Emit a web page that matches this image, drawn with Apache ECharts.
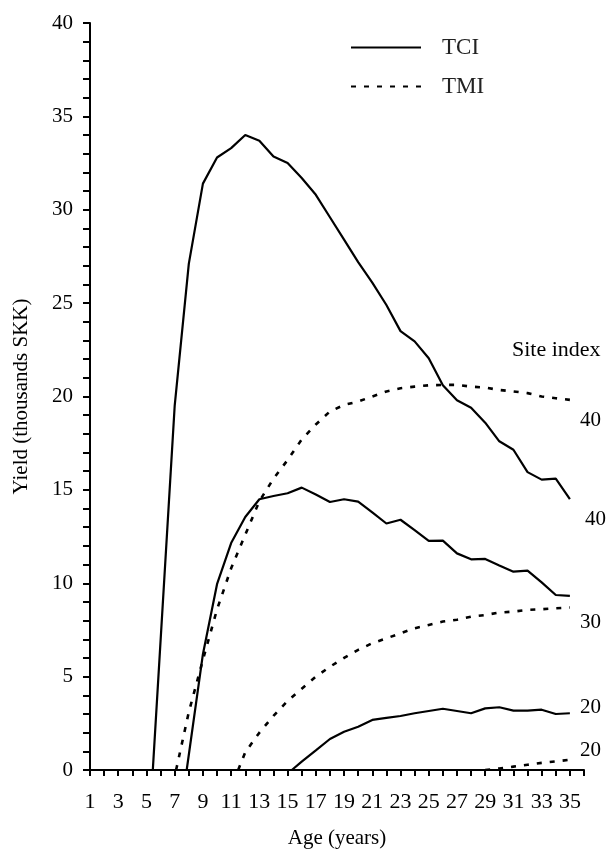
<!DOCTYPE html>
<html>
<head>
<meta charset="utf-8">
<script src="https://cdn.jsdelivr.net/npm/echarts@6/dist/echarts.min.js"></script>
<style>html,body{margin:0;padding:0;background:#fff}#c{width:609px;height:855px}</style>
</head>
<body>
<div id="c"></div>
<script>
// [age, yield] pairs
var TCI40 = [[5.45,0],[7,19.5],[8,27.1],[9,31.4],[10,32.8],[11,33.3],[12,34.0],[13,33.7],[14,32.85],[15,32.5],[16,31.7],[17,30.8],[18,29.6],[19,28.4],[20,27.2],[21,26.1],[22,24.9],[23,23.5],[24,22.95],[25,22.05],[26,20.6],[27,19.8],[28,19.4],[29,18.6],[30,17.6],[31,17.15],[32,15.95],[33,15.55],[34,15.6],[35,14.5]];
var TCI30 = [[7.85,0],[9,6.2],[10,9.95],[11,12.15],[12,13.55],[13,14.5],[14,14.67],[15,14.82],[16,15.12],[17,14.75],[18,14.35],[19,14.5],[20,14.37],[21,13.8],[22,13.2],[23,13.4],[24,12.85],[25,12.27],[26,12.28],[27,11.6],[28,11.28],[29,11.3],[30,10.95],[31,10.62],[32,10.68],[33,10.05],[34,9.37],[35,9.32]];
var TCI20 = [[15.3,0],[16,0.45],[17,1.05],[18,1.66],[19,2.05],[20,2.32],[21,2.68],[22,2.79],[23,2.89],[24,3.04],[25,3.16],[26,3.28],[27,3.16],[28,3.04],[29,3.3],[30,3.36],[31,3.18],[32,3.18],[33,3.23],[34,3.0],[35,3.04]];
var TMI40 = [[7.1,0],[8,3.1],[9,5.9],[10,8.6],[11,10.8],[12,12.6],[13,14.4],[14,15.6],[15,16.6],[16,17.7],[17,18.5],[18,19.2],[19,19.55],[20,19.73],[21,20.0],[22,20.27],[23,20.44],[24,20.53],[25,20.6],[26,20.62],[27,20.62],[28,20.53],[29,20.48],[30,20.35],[31,20.27],[32,20.18],[33,20.0],[34,19.91],[35,19.82]];
var TMI30 = [[11.5,0],[12,0.95],[13,2.0],[14,2.9],[15,3.7],[16,4.35],[17,5.0],[18,5.53],[19,6.0],[20,6.43],[21,6.79],[22,7.05],[23,7.32],[24,7.59],[25,7.77],[26,7.95],[27,8.05],[28,8.21],[29,8.3],[30,8.43],[31,8.48],[32,8.57],[33,8.61],[34,8.66],[35,8.7]];
var TMI20 = [[29,0],[30,0.08],[31,0.18],[32,0.28],[33,0.38],[34,0.46],[35,0.55]];
var legendNames = ['TCI', 'TMI'];
var xTitle = 'Age (years)';
var yTitle = 'Yield (thousands SKK)';
var siteTitle = 'Site index';

var FONT = '"Liberation Serif", "Times New Roman", serif';
var FS = 21;

function mk(name, data, dashed, label, dist, dy) {
  var s = {
    name: name, type: 'line', data: data, symbol: 'none', showSymbol: false, silent: true,
    lineStyle: { color: '#000', width: dashed ? 2.6 : 2.2, type: dashed ? [5, 8] : 'solid' },
    itemStyle: { color: '#000' }
  };
  if (label) {
    s.endLabel = { show: true, formatter: label, fontSize: FS, fontFamily: FONT, color: '#000',
      distance: dist, offset: [0, dy] };
  }
  return s;
}

var chart = echarts.init(document.getElementById('c'), null, { renderer: 'canvas' });
chart.setOption({
  animation: false,
  backgroundColor: '#fff',
  grid: { left: 90, right: 25, top: 23, bottom: 85 },
  legend: {
    data: legendNames, orient: 'vertical', left: 350, top: 36,
    itemWidth: 70, itemHeight: 14, itemGap: 16, padding: 0,
    itemStyle: { opacity: 0 },
    textStyle: { fontSize: 23, fontFamily: FONT, color: '#222', padding: [0, 0, 0, 16] },
    selectedMode: false
  },
  graphic: [{ type: 'text', left: 512, top: 339, style: { text: siteTitle, font: '22px ' + FONT, fill: '#000' } }],
  xAxis: {
    type: 'value', min: 1, max: 36, interval: 1,
    name: xTitle, nameLocation: 'middle', nameGap: 58,
    nameTextStyle: { fontSize: FS, fontFamily: FONT, color: '#000' },
    axisLine: { show: true, lineStyle: { color: '#000', width: 2 } },
    axisTick: { show: true, length: 6, lineStyle: { color: '#000', width: 2 } },
    axisLabel: { fontSize: 22, fontFamily: FONT, color: '#000', margin: 21,
      formatter: function (v) { return (v % 2 === 1 && v <= 35) ? String(v) : ''; } },
    splitLine: { show: false }
  },
  yAxis: {
    type: 'value', min: 0, max: 40, interval: 1,
    name: yTitle, nameLocation: 'middle', nameGap: 58, nameRotate: 90,
    nameTextStyle: { fontSize: FS, fontFamily: FONT, color: '#000' },
    axisLine: { show: true, lineStyle: { color: '#000', width: 2 } },
    axisTick: { show: true, length: 7, lineStyle: { color: '#000', width: 2 } },
    axisLabel: { fontSize: FS, fontFamily: FONT, color: '#000', margin: 17,
      formatter: function (v) { return v % 5 === 0 ? String(v) : ''; } },
    splitLine: { show: false }
  },
  series: [
    mk('TCI', TCI40, false, '40', 15, 20),
    mk('TCI', TCI30, false, null),
    mk('TCI', TCI20, false, '20', 10, -6),
    mk('TMI', TMI40, true, '40', 10, 21),
    mk('TMI', TMI30, true, '30', 10, 15),
    mk('TMI', TMI20, true, '20', 10, -9)
  ]
});
</script>
</body>
</html>
